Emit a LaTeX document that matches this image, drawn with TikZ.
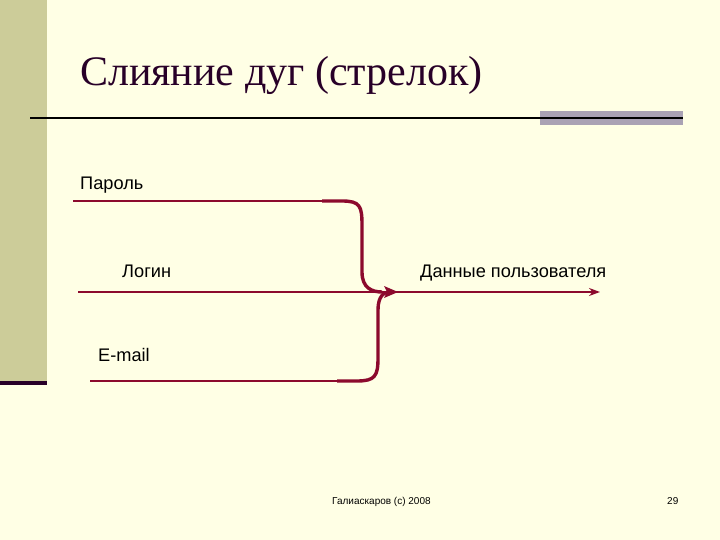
\documentclass[tikz,border=0pt]{standalone}
\usepackage{fontspec}
\setmainfont{Liberation Serif}
\setsansfont{Liberation Sans}
\usetikzlibrary{arrows.meta}
\definecolor{bg}{RGB}{255,255,229}
\definecolor{side}{RGB}{204,204,153}
\definecolor{dark}{RGB}{40,0,40}
\definecolor{greybar}{RGB}{170,162,180}
\definecolor{arccol}{RGB}{140,10,45}
\begin{document}
\begin{tikzpicture}[x=1pt,y=-1pt,
  arcline/.style={draw=arccol, line width=2.6pt},
  bendarc/.style={draw=arccol, line width=3.4pt},
  lbl/.style={font=\sffamily\fontsize{18.2}{21}\selectfont, anchor=base west, inner sep=0},
  foot/.style={font=\sffamily\fontsize{10}{12}\selectfont, anchor=base west, inner sep=0}]
\fill[bg] (0,0) rectangle (720,540);
\useasboundingbox (0,0) rectangle (720,540);
\fill[side] (0,0) rectangle (47,381);
\draw[dark, line width=3.5pt] (0,383) -- (47,383);
\node[anchor=base west, inner sep=0, font=\fontsize{42}{48}\selectfont, text=dark] (title) at (80,86) {Слияние дуг (стрелок)};
\fill[greybar] (540,111) rectangle (683,125);
\draw[black, line width=2pt] (30,118) -- (683,118);
% labels
\node[lbl] (parol) at (80,190) {Пароль};
\node[lbl] (login) at (122,277) {Логин};
\node[lbl] (data) at (420,277) {Данные пользователя};
\node[lbl] (email) at (98,361) {E-mail};
% connector ends
\coordinate (p0) at (73,201);
\coordinate (p1) at (322,201);
\coordinate (l0) at (78,292);
\coordinate (out) at (600,292);
\coordinate (e0) at (90,381);
\coordinate (e1) at (337,381);
% main arrow
\draw[arcline, -{Stealth[length=11pt,width=8pt]}] (l0) -- (out);
% merging arcs
\draw[arcline] (p0) -- (p1);
\draw[bendarc] (p1) -- (342,201) .. controls (360,201) and (362,206) .. (362,225) -- (362,272) .. controls (362,288) and (372,292) .. (382,292);
\draw[arcline] (e0) -- (e1);
\draw[bendarc] (e1) -- (357,381) .. controls (375,381) and (378,376) .. (378,358) -- (378,310) .. controls (378,296) and (384,292) .. (390,292);
\fill[arccol] (398,292) -- (384,286) -- (387,292) -- (384,298) -- cycle;
% footer
\node[foot] (author) at (332,504) {Галиаскаров (c) 2008};
\node[foot] (page) at (667,504) {29};
\end{tikzpicture}
\end{document}
